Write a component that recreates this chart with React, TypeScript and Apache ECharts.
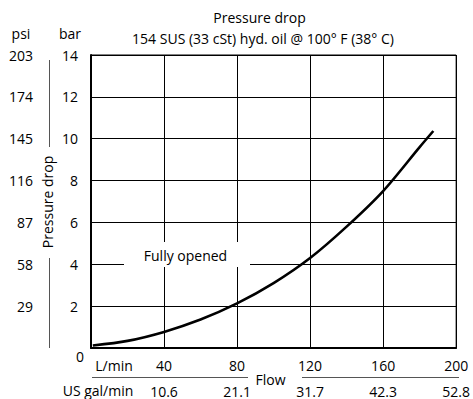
import React, { useEffect, useRef } from "react";
import * as echarts from "echarts";

// Flow in L/min and pressure drop in bar
const flowLpm = [1, 20, 40, 60, 80, 100, 120, 140, 160, 180, 187.5];
const dropBar = [0.12, 0.34, 0.77, 1.36, 2.13, 3.1, 4.3, 5.8, 7.5, 9.6, 10.37];

// Tick labels
const lpmTicks = [40, 80, 120, 160, 200];
const galTicks = ["10.6", "21.1", "31.7", "42.3", "52.8"];
const barTicks = [2, 4, 6, 8, 10, 12, 14];
const psiTicks = ["29", "58", "87", "116", "145", "174", "203"];

const FONT = "'Open Sans', sans-serif";
const TXT = "#000";
const FS = 14;

export default function App() {
  const ref = useRef<HTMLDivElement>(null);

  useEffect(() => {
    if (!ref.current) return;
    const chart = echarts.init(ref.current, undefined, { renderer: "svg" });
    const txt = (x: number, y: number, s: string, size = FS, extra: any = {}) => ({
      type: "text",
      x,
      y,
      z: 110,
      style: {
        text: s,
        fill: TXT,
        font: `${size}px ${FONT}`,
        align: "center",
        verticalAlign: "middle",
      },
      ...extra,
    });
    const lbl = { fontSize: FS, color: TXT, fontFamily: FONT, lineHeight: 16 };
    chart.setOption({
      animation: false,
      backgroundColor: "#fff",
      textStyle: { fontFamily: FONT },
      grid: {
        left: 91,
        right: 14,
        top: 55,
        bottom: 51,
        show: true,
        borderColor: "#000",
        borderWidth: 1,
        backgroundColor: "transparent",
      },
      xAxis: [
        {
          type: "value",
          min: 0,
          max: 200,
          interval: 40,
          position: "bottom",
          axisLine: { show: true, onZero: false, lineStyle: { color: "#000", width: 2 } },
          axisTick: { show: false },
          splitLine: { show: true, lineStyle: { color: "#000", width: 1 } },
          axisLabel: {
            ...lbl,
            margin: 9,
            formatter: (v: number) => (lpmTicks.indexOf(v) >= 0 ? String(v) : ""),
          },
        },
        {
          type: "value",
          min: 0,
          max: 200,
          interval: 40,
          position: "bottom",
          axisLine: { show: false },
          axisTick: { show: false },
          splitLine: { show: false },
          axisLabel: {
            ...lbl,
            margin: 35,
            formatter: (v: number) => {
              const i = lpmTicks.indexOf(v);
              return i >= 0 ? galTicks[i] : "";
            },
          },
        },
      ],
      yAxis: [
        {
          type: "value",
          min: 0,
          max: 14,
          interval: 2,
          position: "left",
          axisLine: { show: true, onZero: false, lineStyle: { color: "#000", width: 2 } },
          axisTick: { show: false },
          splitLine: { show: true, lineStyle: { color: "#000", width: 1 } },
          axisLabel: {
            ...lbl,
            margin: 13,
            formatter: (v: number) => (barTicks.indexOf(v) >= 0 ? String(v) : ""),
          },
        },
        {
          type: "value",
          min: 0,
          max: 14,
          interval: 2,
          position: "left",
          axisLine: { show: false },
          axisTick: { show: false },
          splitLine: { show: false },
          axisLabel: {
            ...lbl,
            margin: 58,
            formatter: (v: number) => {
              const i = barTicks.indexOf(v);
              return i >= 0 ? psiTicks[i] : "";
            },
          },
        },
      ],
      series: [
        {
          type: "line",
          xAxisIndex: 0,
          yAxisIndex: 0,
          data: flowLpm.map((f, i) => [f, dropBar[i]]),
          smooth: 0.3,
          showSymbol: false,
          lineStyle: { color: "#000", width: 2.6 },
          z: 5,
        },
      ],
      graphic: [
        txt(259.5, 17.5, "Pressure drop"),
        txt(263, 38.5, "154 SUS (33 cSt) hyd. oil @ 100° F (38° C)"),
        txt(21, 33, "psi"),
        txt(70, 33, "bar"),
        txt(80, 356.5, "0"),
        txt(114, 365, "L/min"),
        txt(98, 390, "US gal/min"),
        txt(270.5, 379, "Flow"),
        {
          type: "line",
          z: 110,
          shape: { x1: 92, y1: 377.5, x2: 248, y2: 377.5 },
          style: { stroke: "#555", lineWidth: 1 },
        },
        {
          type: "line",
          z: 110,
          shape: { x1: 302, y1: 377.5, x2: 459, y2: 377.5 },
          style: { stroke: "#555", lineWidth: 1 },
        },
        {
          type: "line",
          z: 110,
          shape: { x1: 49.5, y1: 60, x2: 49.5, y2: 147 },
          style: { stroke: "#555", lineWidth: 1 },
        },
        {
          type: "line",
          z: 110,
          shape: { x1: 49.5, y1: 258, x2: 49.5, y2: 348 },
          style: { stroke: "#555", lineWidth: 1 },
        },
        txt(47.5, 202, "Pressure drop", FS, { rotation: Math.PI / 2 }),
        {
          type: "rect",
          z: 100,
          shape: { x: 124, y: 242, width: 126, height: 25 },
          style: { fill: "#fff" },
        },
        txt(185.5, 255.5, "Fully opened"),
      ],
    });
    return () => chart.dispose();
  }, []);

  return (
    <div
      ref={ref}
      style={{ position: "fixed", left: 0, top: 0, width: 473, height: 399 }}
    />
  );
}
